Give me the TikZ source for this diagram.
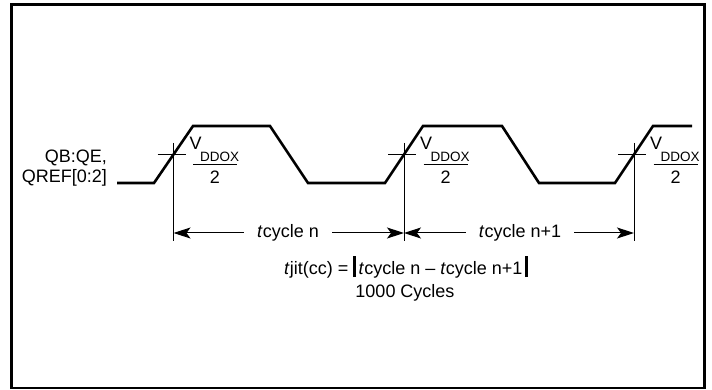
\documentclass[tikz,border=0pt]{standalone}
\usepackage{fontspec}
\setmainfont{Liberation Sans}
\usetikzlibrary{arrows.meta}
\begin{document}
\begin{tikzpicture}[x=1pt,y=-1pt,
  wave/.style={line width=2.6pt, line join=miter},
  thin/.style={line width=1pt},
  dim/.style={line width=1pt, -{Stealth[length=17pt,width=11pt,inset=4pt]}},
  txt/.style={font=\fontsize{18}{21}\selectfont, inner sep=0pt},
  sub/.style={font=\fontsize{13.5}{15}\selectfont, inner sep=0pt},
  dimlabel/.style={txt, fill=white, inner xsep=13pt, inner ysep=2pt}]
\useasboundingbox (0,0) rectangle (712,390);
\draw[line width=2.8pt] (11.5,4.5) rectangle (704.5,388);
% waveform
\coordinate (w0) at (117,183);
\coordinate (w1) at (154,183);
\coordinate (w2) at (193,126);
\coordinate (w3) at (270,126);
\coordinate (w4) at (308,183);
\coordinate (w5) at (385,183);
\coordinate (w6) at (423,126);
\coordinate (w7) at (502,126);
\coordinate (w8) at (539,183);
\coordinate (w9) at (615,183);
\coordinate (w10) at (653,126);
\coordinate (w11) at (692,126);
\draw[wave] (w0) -- (w1) -- (w2) -- (w3) -- (w4) -- (w5) -- (w6) -- (w7) -- (w8) -- (w9) -- (w10) -- (w11);
% left label
\node[txt, anchor=base east] (lab1) at (107,163) {QB:QE,};
\node[txt, anchor=base east] (lab2) at (107,183) {QREF[0:2]};
% crossings
\foreach \n/\x in {1/173.5, 2/404, 3/634} {
  \coordinate (c\n) at (\x,154.5);
  \coordinate (top\n) at (\x,143);
  \coordinate (bot\n) at (\x,241);
  \coordinate (tl\n) at (\x-16,154.5);
  \coordinate (tr\n) at (\x+12,154.5);
  \draw[thin] (top\n) -- (bot\n);
  \draw[thin] (tl\n) -- (tr\n);
  \node[txt, anchor=base west] (v\n) at (\x+16,149.5) {V};
  \node[sub, anchor=base west] (dd\n) at (\x+26.5,162) {DDOX};
  \coordinate (fl\n) at (\x+19.5,164.5);
  \coordinate (fr\n) at (\x+63.5,164.5);
  \draw[line width=1.6pt] (fl\n) -- (fr\n);
  \node[txt, anchor=base] (two\n) at (\x+41.5,184) {2};
}
% dimension arrows
\node[dimlabel] (tn) at (288,233) {\textit{t}cycle n};
\node[dimlabel] (tn1) at (520,233) {\textit{t}cycle n+1};
\draw[dim] (tn.west) -- (tn.west -| c1);
\draw[dim] (tn.east) -- (tn.east -| c2);
\draw[dim] (tn1.west) -- (tn1.west -| c2);
\draw[dim] (tn1.east) -- (tn1.east -| c3);
% formula
\node[txt, anchor=base] (jit) at (406,274) {\textit{t}jit(cc) = \rule[-3pt]{2.3pt}{21pt}\,\textit{t}cycle n -- \textit{t}cycle n+1\,\rule[-3pt]{2.3pt}{21pt}};
\node[txt, anchor=base] (cyc) at (405,297) {1000 Cycles};
\end{tikzpicture}
\end{document}
